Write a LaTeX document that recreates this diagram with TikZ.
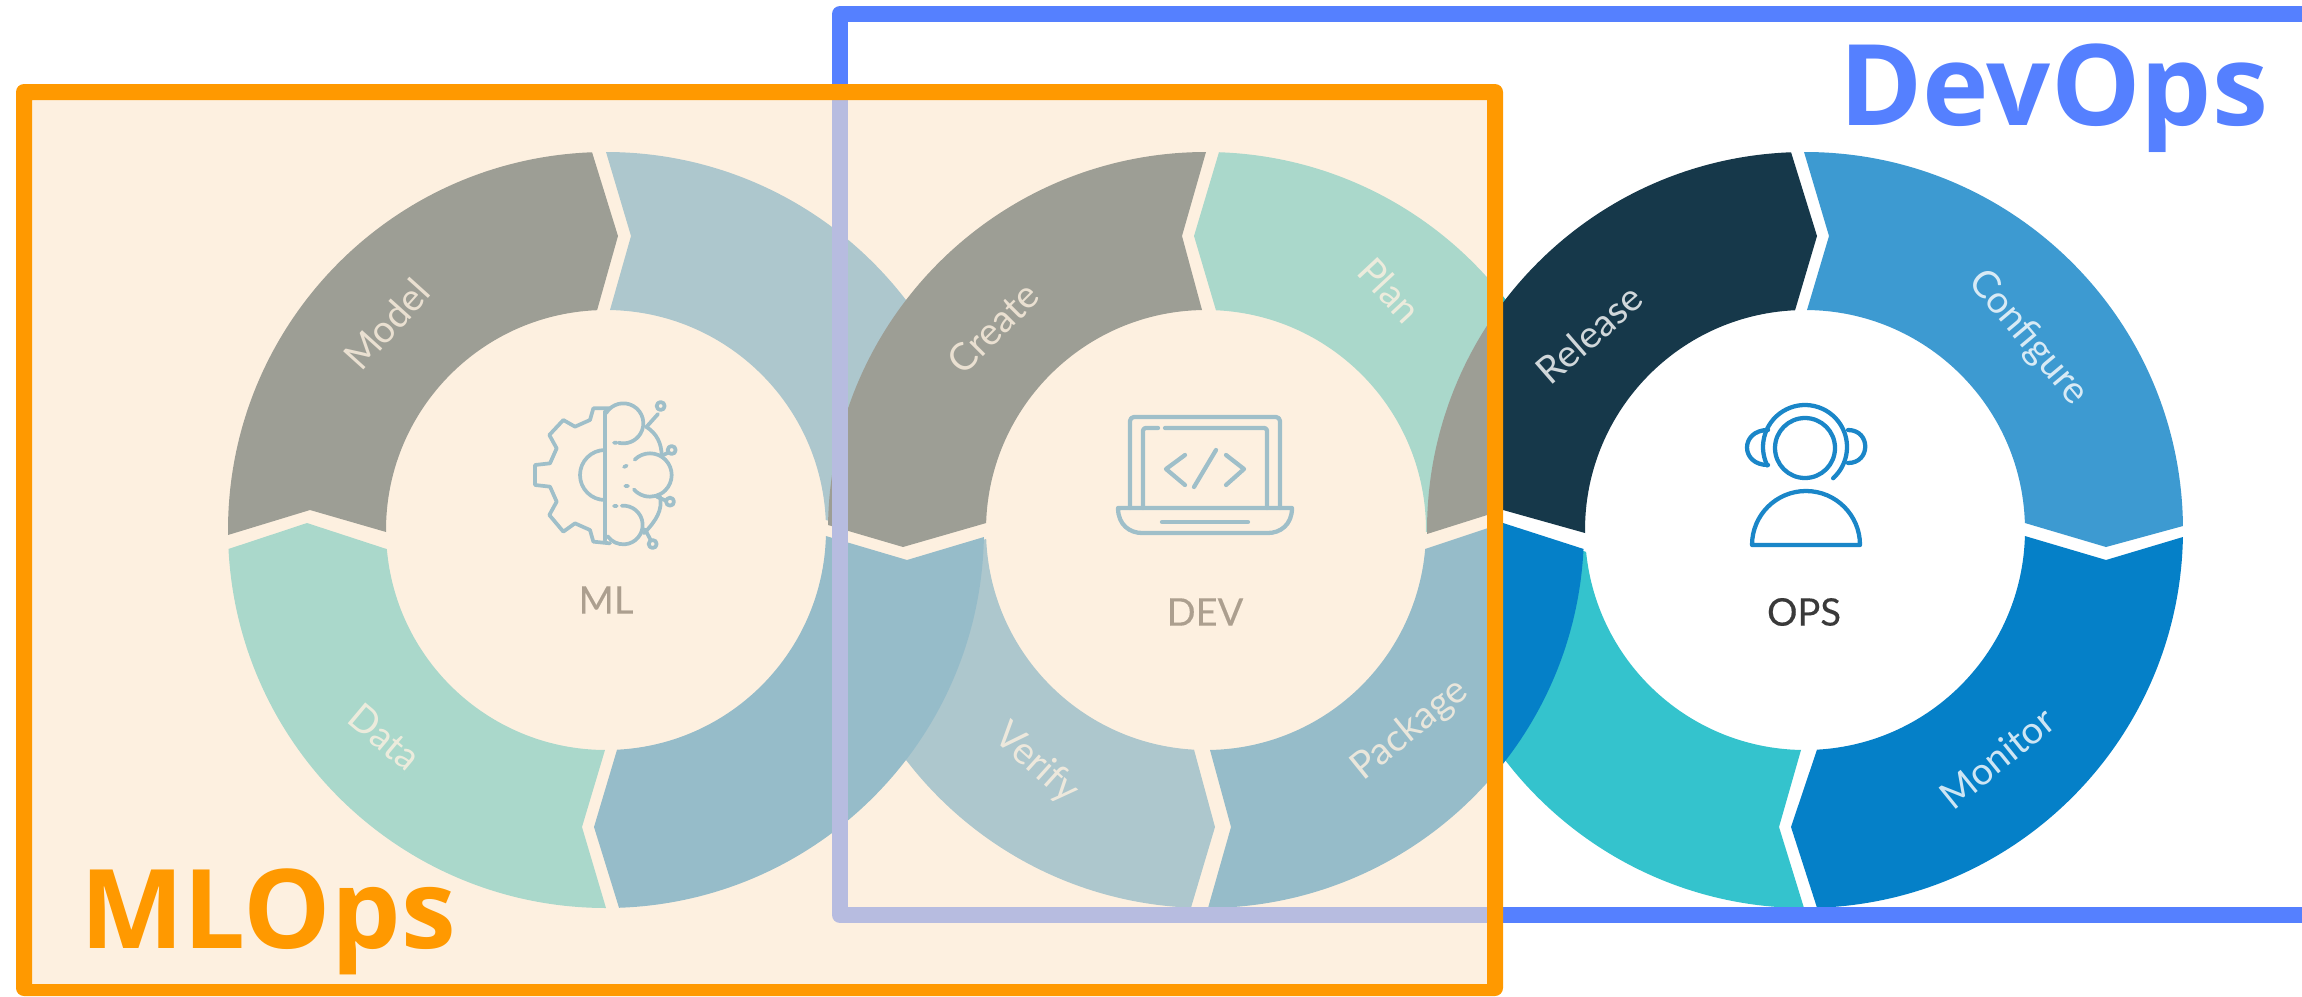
\documentclass[tikz,border=0pt]{standalone}
\usepackage{fontspec}
\newfontfamily\lblfont{Lato}
\newfontfamily\namefont[FakeBold=0.3]{Lato}
\newfontfamily\ttlfont{Open Sans}
\definecolor{cDark}{HTML}{16384A}
\definecolor{cCfg}{HTML}{3D9AD1}
\definecolor{cMon}{HTML}{0580C8}
\definecolor{cTeal}{HTML}{34C3CD}
\definecolor{cIcon}{HTML}{1A86C8}
\definecolor{cName}{HTML}{3A3A3A}
\definecolor{cBlue}{HTML}{5580FF}
\definecolor{cOrange}{HTML}{FF9900}
\definecolor{cVeil}{HTML}{FDE7CB}
\def\angof#1,#2;#3{\pgfmathsetmacro#3{atan2(-(#2),#1)}}
% centre x, colour, then the clockwise-leading edge (outer, middle, inner), then the trailing edge
\newcommand{\ringseg}[8]{%
  \angof#3;\aOa \angof#6;\aOb \angof#5;\aIa \angof#8;\aIb
  \pgfmathparse{\aOb>\aOa?\aOb-360:\aOb}\let\aOb\pgfmathresult
  \pgfmathparse{\aIb>\aIa?\aIb-360:\aIb}\let\aIb\pgfmathresult
  \fill[#2,shift={(#1,530)}] (\aOa:283.5pt) arc[start angle=\aOa,end angle=\aOb,radius=283.5pt]
    -- (#7) -- (\aIb:165pt) arc[start angle=\aIb,end angle=\aIa,radius=165pt] -- (#4) -- cycle;}
\tikzset{
  x=0.75pt,y=-0.75pt,
  seglabel/.style={text=white,text opacity=0.8,inner sep=0pt,font=\lblfont\fontsize{28.5}{30}\selectfont},
  wheelname/.style={text=cName,inner sep=0pt,font=\namefont\fontsize{28.5}{30}\selectfont},
  title/.style={anchor=base west,inner sep=0pt,font=\ttlfont\bfseries\fontsize{#1}{90}\selectfont},
  icon/.style={draw=cIcon,line width=#1,line cap=round,line join=round,fill=none},
  icon/.default=3.2pt
}
\begin{document}
\begin{tikzpicture}
\fill[white] (0,0) rectangle (2302,996);
\useasboundingbox (0,0) rectangle (2302,996);
% lower layer
\ringseg{606}{cCfg}{0,-379}{25,-294}{4,-221}{377,-9}{301,14}{219,-10}
\ringseg{1206}{cCfg}{-15,377}{9,297}{-12,220}{-378,10}{-303,33}{-221,9}
\ringseg{1206}{cTeal}{13,-379}{-12,-294}{10,-221}{378,2}{297,-23}{220,2}
\ringseg{1805}{cTeal}{-1,377}{-26,297}{-4,220}{-378,22}{-302,-4}{-220,22}
% upper layer
\ringseg{606}{cDark}{-378,5}{-296,-20}{-220,2}{-14,-379}{12,-294}{-9,-222}
\ringseg{606}{cTeal}{0,378}{-24,297}{-1,220}{-378,19}{-299,-7}{-218,19}
\ringseg{606}{cMon}{377,7}{301,30}{219,6}{13,377}{-12,297}{11,219}
\ringseg{1206}{cDark}{-378,-5}{-303,17}{-221,-7}{0,-379}{-24,-294}{-4,-221}
\ringseg{1206}{cMon}{378,19}{297,-7}{220,19}{2,377}{25,297}{4,220}
\ringseg{1805}{cDark}{-378,4}{-302,-20}{-220,3}{-14,-379}{12,-294}{-10,-221}
\ringseg{1805}{cCfg}{-1,-379}{24,-294}{2,-221}{377,-4}{301,17}{219,-7}
\ringseg{1805}{cMon}{377,7}{301,30}{219,6}{12,377}{-14,297}{12,220}
% segment labels
\node[seglabel,rotate=48] (model) at (387,324) {Model};
\node[seglabel,rotate=-40] (data) at (385,737) {Data};
\node[seglabel,rotate=45] (create) at (993,328) {Create};
\node[seglabel,rotate=-47] (plan) at (1390,290) {Plan};
\node[seglabel,rotate=-42] (verify) at (1036,764) {Verify};
\node[seglabel,rotate=39] (package) at (1410,730) {Package};
\node[seglabel,rotate=41] (release) at (1589,334) {Release};
\node[seglabel,rotate=-50] (configure) at (2028,338) {Configure};
\node[seglabel,rotate=39] (monitor) at (1997,758) {Monitor};
% wheel names
\node[wheelname] (ml) at (606,600) {ML};
\node[wheelname] (dev) at (1205,612) {DEV};
\node[wheelname] (ops) at (1804,612) {OPS};
% ML icon
\begin{scope}[shift={(500,370)},x=0.25pt,y=-0.25pt,icon=2.8pt]
  \draw (330,115) -- (280,115) -- (270,150) -- (225,170) -- (190,150) -- (148,195) -- (170,235) -- (150,280) -- (105,285) -- (105,345) -- (150,350) -- (170,395) -- (148,435) -- (190,485) -- (225,460) -- (270,480) -- (280,515) -- (330,520);
  \draw (315,125) -- (315,510);
  \draw ([shift={(90:18.75pt)}]315,315) arc[start angle=90,end angle=270,radius=18.75pt];
  \draw ([shift={(149:15pt)}]370,160) arc[start angle=149,end angle=-104,radius=15pt];
  \draw ([shift={(135:16.25pt)}]450,315) arc[start angle=135,end angle=-138,radius=16.25pt];
  \draw ([shift={(95:14.5pt)}]370,465) arc[start angle=95,end angle=-145,radius=14.5pt];
  \draw (342,218) -- (350,218) (342,408) -- (350,408) (372,291) -- (380,287) (376,348) -- (384,348);
  \draw (438,170) .. controls (470,190) and (485,220) .. (485,258);
  \draw (480,380) .. controls (488,420) and (470,450) .. (432,490);
  \draw (440,170) -- (474,132) (490,255) -- (504,248) (470,380) -- (498,392) (435,478) -- (452,510);
  \draw (482,108) circle[radius=3pt] (515,240) circle[radius=3pt] (510,395) circle[radius=3pt] (458,522) circle[radius=3pt];
\end{scope}
% DEV icon
\begin{scope}[icon]
  \draw[rounded corners=3pt] (1130,508) -- (1130,417) -- (1280,417) -- (1280,508);
  \draw[rounded corners=2pt] (1158,428) -- (1143,428) -- (1143,508);
  \draw[rounded corners=2pt] (1165,428) -- (1267,428) -- (1267,508);
  \draw (1118,508) -- (1292,508) .. controls (1292,525) and (1280,533) .. (1268,533) -- (1142,533) .. controls (1130,533) and (1118,525) .. (1118,508) -- cycle;
  \draw (1162,522) -- (1248,522);
  \draw (1185,455) -- (1166,469) -- (1185,485);
  \draw (1216,450) -- (1194,487);
  \draw (1226,455) -- (1244,469) -- (1226,485);
\end{scope}
% OPS icon
\begin{scope}[icon]
  \draw (1805,448) circle[radius=22.5pt];
  \draw ([shift={(206:31.5pt)}]1805,447) arc[start angle=206,end angle=-48,radius=31.5pt];
  \draw (1768,430) .. controls (1740,430) and (1740,465) .. (1768,465);
  \draw (1848,430) .. controls (1871,430) and (1871,463) .. (1848,463);
  \draw (1752,545) arc[start angle=180,end angle=0,radius=40.5pt] -- cycle;
\end{scope}
% DevOps frame and title
\draw[cBlue,line width=12pt,line join=round] (2302,14) -- (840,14) -- (840,915) -- (2302,915);
\node[title=84.5,text=cBlue] (devops) at (1839,125) {DevOps};
% MLOps veil, frame and title
\fill[cVeil,fill opacity=0.59] (24,92) rectangle (1495,990);
\fill[cOrange,even odd rule,rounded corners=6pt] (16,84) rectangle (1503,996) [sharp corners] (32,100) rectangle (1487,984);
\node[title=82.5,text=cOrange] (mlops) at (80,948) {MLOps};
\end{tikzpicture}
\end{document}
